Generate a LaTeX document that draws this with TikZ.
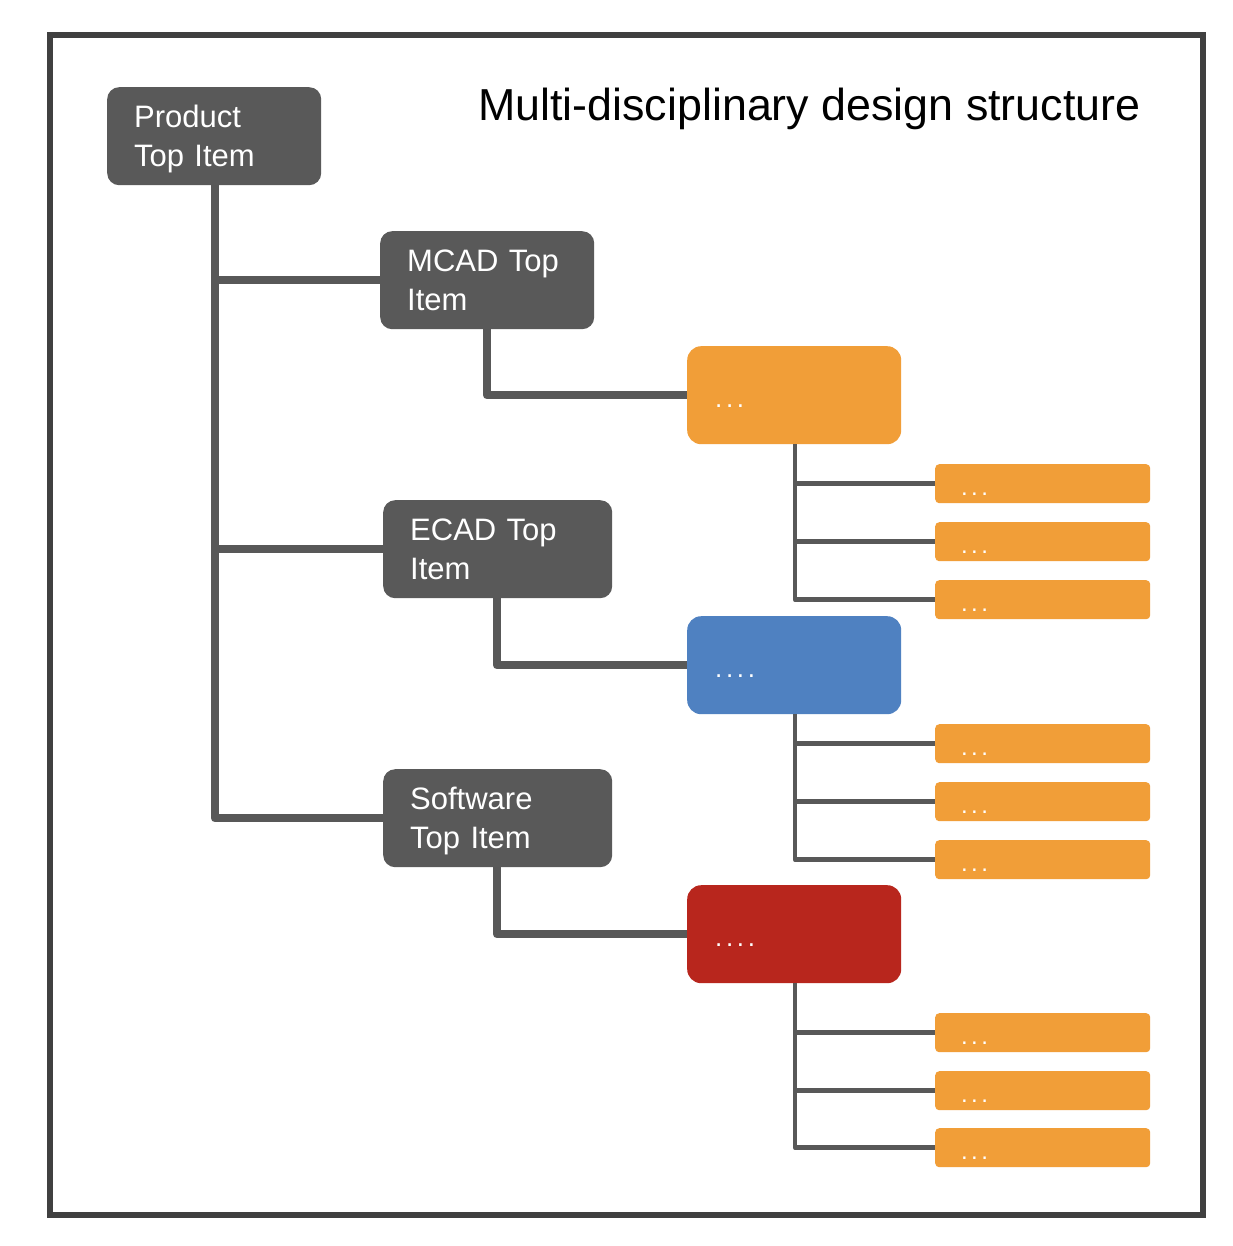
\documentclass[tikz,border=0pt]{standalone}
\usepackage{fontspec}
\setmainfont{Liberation Sans}
\newfontfamily\dotfont[LetterSpace=14]{Liberation Sans}
\definecolor{boxgray}{HTML}{595959}
\definecolor{linegray}{HTML}{585858}
\definecolor{framegray}{HTML}{404040}
\definecolor{orangebox}{HTML}{F19E38}
\definecolor{bluebox}{HTML}{4F81C1}
\definecolor{redbox}{HTML}{B8261D}
\begin{document}
\begin{tikzpicture}[x=1pt,y=-1pt,
  topbox/.style={fill=boxgray, rounded corners=12pt, anchor=north west,
    minimum width=#1, minimum height=98pt, inner xsep=27pt, inner ysep=0pt,
    text width=#1-54pt, align=left, text=white,
    font=\fontsize{31}{38.5}\selectfont},
  bigbox/.style={fill=#1, rounded corners=14pt, anchor=north west,
    minimum width=214pt, minimum height=98pt, inner xsep=28pt, inner ysep=0pt,
    text width=158pt, align=left, text=white, text height=24pt, text depth=0pt,
    font=\dotfont\fontsize{26}{28}\selectfont},
  smallbox/.style={fill=orangebox, rounded corners=4pt, anchor=north west,
    minimum width=215pt, minimum height=39pt, inner xsep=26pt, inner ysep=0pt,
    text width=163pt, align=left, text=white, text height=23pt, text depth=0pt,
    font=\dotfont\fontsize{24}{26}\selectfont},
  thick link/.style={draw=linegray, line width=8.5pt, line join=round},
  thin link/.style={draw=linegray, line width=4.5pt, line join=round},
]
\useasboundingbox (0,0) rectangle (1232,1246);
\fill[white] (0,0) rectangle (1232,1246);
\draw[framegray, line width=6pt] (50,35) rectangle (1203,1215);

\node[anchor=base west, font=\fontsize{44.8}{50}\selectfont, inner sep=0pt] (title) at (478,121) {Multi-disciplinary design structure};

\node[topbox=214pt] (prod) at (107,87) {\rule{0pt}{28pt}Product\\Top Item\rule[-6pt]{0pt}{6pt}};
\node[topbox=214pt] (mcad) at (380,231) {\rule{0pt}{28pt}MCAD Top\\Item\rule[-6pt]{0pt}{6pt}};
\node[topbox=229pt] (ecad) at (383,500) {\rule{0pt}{28pt}ECAD Top\\Item\rule[-6pt]{0pt}{6pt}};
\node[topbox=229pt] (soft) at (383,769) {\rule{0pt}{28pt}Software\\Top Item\rule[-6pt]{0pt}{6pt}};

\node[bigbox=orangebox] (mc) at (687,346) {...};
\node[bigbox=bluebox] (ec) at (687,616) {....};
\node[bigbox=redbox] (sw) at (687,885) {....};

\node[smallbox] (mc1) at (935,464) {...};
\node[smallbox] (mc2) at (935,522) {...};
\node[smallbox] (mc3) at (935,580) {...};
\node[smallbox] (ec1) at (935,724) {...};
\node[smallbox] (ec2) at (935,782) {...};
\node[smallbox] (ec3) at (935,840) {...};
\node[smallbox] (sw1) at (935,1013) {...};
\node[smallbox] (sw2) at (935,1071) {...};
\node[smallbox] (sw3) at (935,1128) {...};

% level 1
\draw[thick link] (prod.south -| 215,0) |- (soft.west);
\draw[thick link] (215,0 |- mcad.west) -- (mcad.west);
\draw[thick link] (215,0 |- ecad.west) -- (ecad.west);
% level 2
\draw[thick link] (mcad.south -| 487,0) |- (mc.west);
\draw[thick link] (ecad.south -| 497,0) |- (ec.west);
\draw[thick link] (soft.south -| 497,0) |- (sw.west);
% level 3
\foreach \p in {mc,ec,sw}{
  \draw[thin link] (\p.south -| 795,0) |- (\p3.west);
  \draw[thin link] (795,0 |- \p1.west) -- (\p1.west);
  \draw[thin link] (795,0 |- \p2.west) -- (\p2.west);
}
\end{tikzpicture}
\end{document}
